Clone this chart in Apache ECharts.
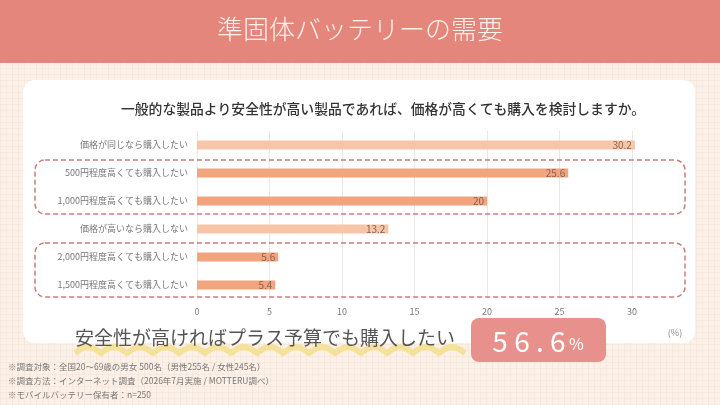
<!DOCTYPE html>
<html>
<head>
<meta charset="utf-8">
<script src="https://cdn.jsdelivr.net/npm/echarts@6/dist/echarts.min.js"></script>
<style>
html,body{margin:0;padding:0;}
body{
  width:720px;height:405px;overflow:hidden;
  background-color:#fcf1e8;
  background-image:
    repeating-linear-gradient(0deg, rgba(240,205,185,0.25) 0 1px, transparent 1px 6px),
    repeating-linear-gradient(90deg, rgba(240,205,185,0.25) 0 1px, transparent 1px 6px);
}
#main{width:720px;height:405px;}
</style>
</head>
<body>
<div id="main"></div>
<script>
// データ
var categories=["価格が同じなら購入したい","500円程度高くても購入したい","1,000円程度高くても購入したい",
    "価格が高いなら購入しない","2,000円程度高くても購入したい","1,500円程度高くても購入したい"];
var values=[30.2,25.6,20,13.2,5.6,5.4];
var highlight=[false,true,true,false,true,true];
var xTicks=[0,5,10,15,20,25,30];

var FONT='"Noto Sans CJK JP","Noto Sans",sans-serif';
var lightColor="#f7c5a8";
var darkColor="#f1a47e";

var barData=[];
for(var i=0;i<values.length;i++)
{
    barData.push({value:values[i],itemStyle:{color:highlight[i]?darkColor:lightColor}});
}

// 波線の下線（上に丸い山が並ぶ）
function wavePoints(x0,x1,y,amp,step)
{
    var pts=[];
    for(var x=x0;x<x1;x+=step)
    {
        for(var k=0;k<8;k++)
        {
            var t=k/8;
            pts.push([x+step*t,y-amp*Math.sin(Math.PI*t)]);
        }
    }
    pts.push([x1,y]);
    return pts;
}

var myChart=echarts.init(document.getElementById("main"));
var option={
    backgroundColor:"transparent",
    textStyle:{fontFamily:FONT},
    grid:{left:197,right:88,top:131,height:168,containLabel:false},
    xAxis:{
        type:"value",
        min:0,max:30,interval:5,
        axisLine:{show:false},
        axisTick:{show:false},
        axisLabel:{color:"#777",fontSize:9,margin:8,fontFamily:FONT},
        splitLine:{lineStyle:{color:"#e8e8e8",width:1}}
    },
    yAxis:{
        type:"category",
        inverse:true,
        data:categories,
        axisLine:{show:false},
        axisTick:{show:false},
        axisLabel:{color:"#777",fontSize:9,margin:9,fontFamily:FONT}
    },
    series:[{
        type:"bar",
        data:barData,
        barWidth:9,
        clip:false,
        label:{
            show:true,position:"insideRight",offset:[2,0],
            color:"#8a6350",fontSize:10,fontFamily:FONT
        },
        z:3
    }],
    graphic:[
        {type:"rect",z:-10,shape:{x:0,y:0,width:720,height:63},style:{fill:"#e4867b"}},
        {type:"text",z:10,x:360,y:29,style:{text:"準固体バッテリーの需要",fill:"#fdf1ec",fontSize:26,
            fontFamily:FONT,fontWeight:300,align:"center",verticalAlign:"middle"}},
        {type:"rect",z:-10,shape:{x:23,y:80,width:672,height:263,r:12},style:{fill:"#fff"}},
        {type:"text",z:10,x:383,y:109,style:{text:"一般的な製品より安全性が高い製品であれば、価格が高くても購入を検討しますか。",
            fill:"#333",fontSize:13.8,fontWeight:500,fontFamily:FONT,align:"center",verticalAlign:"middle"}},
        {type:"rect",z:5,shape:{x:35,y:160,width:650,height:54,r:10},
            style:{fill:"none",stroke:"#c77d7c",lineWidth:1.5,lineDash:[5,3]}},
        {type:"rect",z:5,shape:{x:35,y:243,width:650,height:54,r:10},
            style:{fill:"none",stroke:"#c77d7c",lineWidth:1.5,lineDash:[5,3]}},
        {type:"polyline",z:6,shape:{points:wavePoints(75,465,353,6,26)},
            style:{fill:null,stroke:"#f5e29a",lineWidth:6,lineJoin:"round"}},
        {type:"text",z:10,x:75,y:338,style:{text:"安全性が高ければプラス予算でも購入したい",
            fill:"#555",fontSize:19,fontFamily:FONT,verticalAlign:"middle"}},
        {type:"rect",z:10,shape:{x:471,y:318,width:135,height:44,r:8},style:{fill:"#e8918c"}},
        {type:"text",z:11,x:538,y:341,style:{
            text:"{n|5 6 . 6} {p|%}",align:"center",verticalAlign:"middle",
            rich:{
                n:{fontSize:28,fill:"#fff",fontFamily:FONT},
                p:{fontSize:16,fill:"#fff",fontFamily:FONT,padding:[6,0,0,0]}
            }}},
        {type:"text",z:10,x:675,y:333,style:{text:"(%)",fill:"#888",fontSize:9,fontFamily:FONT,
            align:"center",verticalAlign:"middle"}},
        {type:"text",z:10,x:8,y:367,style:{text:"※調査対象：全国20～69歳の男女 500名（男性255名 / 女性245名）",
            fill:"#777",fontSize:8.5,fontFamily:FONT,verticalAlign:"middle"}},
        {type:"text",z:10,x:8,y:381,style:{text:"※調査方法：インターネット調査（2026年7月実施 / MOTTERU調べ）",
            fill:"#777",fontSize:8.5,fontFamily:FONT,verticalAlign:"middle"}},
        {type:"text",z:10,x:8,y:395,style:{text:"※モバイルバッテリー保有者：n=250",
            fill:"#777",fontSize:8.5,fontFamily:FONT,verticalAlign:"middle"}}
    ]
};
myChart.setOption(option);
</script>
</body>
</html>
